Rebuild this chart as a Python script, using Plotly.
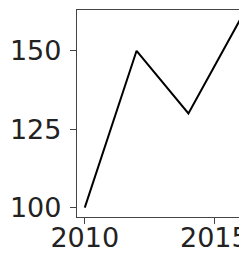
import plotly.graph_objects as go

years = [2010, 2012, 2014, 2016]
values = [100, 150, 130, 160]
x_ticks = [2010, 2015]
y_ticks = [100, 125, 150]

fig = go.Figure()
fig.add_trace(go.Scatter(x=years, y=values, mode="lines",
                         line=dict(color="black", width=2)))

axis_common = dict(showline=True, linecolor="#444", linewidth=1.3, mirror=True,
                   ticks="outside", ticklen=6, tickwidth=1.3, tickcolor="#444",
                   showgrid=False, zeroline=False,
                   tickfont=dict(family="DejaVu Sans", size=27, color="#222"))

fig.update_layout(
    width=242, height=255,
    margin=dict(l=69, r=2, t=2, b=46),
    paper_bgcolor="white", plot_bgcolor="white",
    showlegend=False,
    xaxis=dict(range=[2009.7, 2016.3], tickvals=x_ticks, ticklabelstandoff=-10, **axis_common),
    yaxis=dict(range=[97, 163], tickvals=y_ticks, ticklabelstandoff=3, **axis_common),
)

fig.write_html("out.html")
